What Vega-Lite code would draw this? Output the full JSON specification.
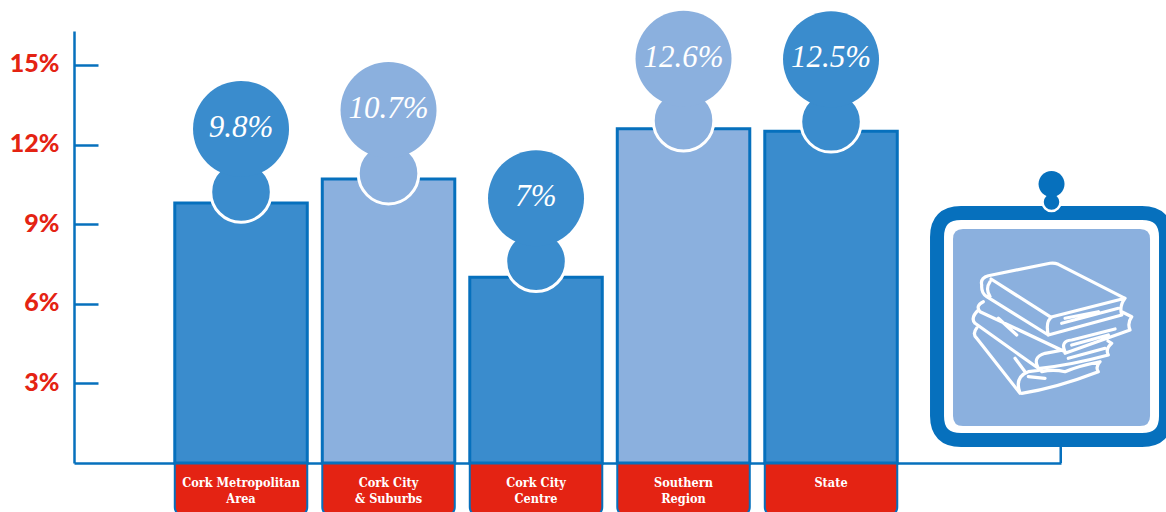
{
  "$schema": "https://vega.github.io/schema/vega-lite/v6.json",
  "width": 987,
  "height": 432,
  "autosize": {"type": "none"},
  "padding": {"left": 74, "top": 31, "right": 105, "bottom": 49},
  "background": "white",
  "view": {"stroke": null},
  "params": [
    {"name": "bubbleLift", "value": {"Cork Metropolitan\nArea": 74, "Cork City\n& Suburbs": 69, "Cork City\nCentre": 79, "Southern\nRegion": 70, "State": 72}},
    {"name": "neckLift", "value": {"Cork Metropolitan\nArea": 11, "Cork City\n& Suburbs": 5.5, "Cork City\nCentre": 16, "Southern\nRegion": 8, "State": 9.5}}
  ],
  "data": {
    "values": [
      {"area": "Cork Metropolitan\nArea", "share": 9.8},
      {"area": "Cork City\n& Suburbs", "share": 10.7},
      {"area": "Cork City\nCentre", "share": 7},
      {"area": "Southern\nRegion", "share": 12.6},
      {"area": "State", "share": 12.5}
    ]
  },
  "encoding": {
    "x": {
      "field": "area",
      "type": "nominal",
      "sort": null,
      "scale": {
        "domain": ["Cork Metropolitan\nArea", "Cork City\n& Suburbs", "Cork City\nCentre", "Southern\nRegion", "State"],
        "paddingInner": 0.1017,
        "paddingOuter": 0.8966,
        "align": 0.381
      },
      "axis": {
        "title": null,
        "labels": false,
        "ticks": false,
        "domain": true,
        "domainColor": "#0670bd",
        "domainWidth": 2.5,
        "grid": false
      }
    },
    "color": {
      "field": "area",
      "type": "nominal",
      "legend": null,
      "scale": {
        "domain": ["Cork Metropolitan\nArea", "Cork City\n& Suburbs", "Cork City\nCentre", "Southern\nRegion", "State"],
        "range": ["#3a8ccd", "#8bb0de", "#3a8ccd", "#8bb0de", "#3a8ccd"]
      }
    }
  },
  "layer": [
    {
      "mark": {"type": "bar", "fill": "#e42313", "stroke": "#0670bd", "strokeWidth": 2, "cornerRadiusBottomLeft": 9, "cornerRadiusBottomRight": 9},
      "encoding": {
        "color": {"value": "#e42313"},
        "y": {
          "datum": 0,
          "type": "quantitative",
          "scale": {"domain": [0, 16.28], "nice": false},
          "axis": {
            "title": null,
            "grid": false,
            "values": [3, 6, 9, 12, 15],
            "labelExpr": "datum.value + '%'",
            "labelFont": "Lato",
            "labelFontWeight": 900,
            "labelFontSize": 25,
            "labelColor": "#e42313",
            "labelPadding": 39,
            "labelOffset": -1,
            "tickSize": -24,
            "tickWidth": 2.5,
            "tickColor": "#0670bd",
            "domainColor": "#0670bd",
            "domainWidth": 2.5
          }
        },
        "y2": {"datum": -2}
      }
    },
    {
      "mark": {"type": "bar", "stroke": "#0670bd", "strokeWidth": 3},
      "encoding": {
        "y": {"field": "share", "type": "quantitative"},
        "y2": {"datum": 0}
      }
    },
    {
      "mark": {"type": "point", "filled": true, "opacity": 1, "size": 3672, "stroke": "white", "strokeWidth": 3, "strokeOpacity": 1, "yOffset": {"expr": "-neckLift[datum.area]"}},
      "encoding": {
        "y": {"field": "share", "type": "quantitative"},
        "stroke": {"value": "white"}
      }
    },
    {
      "mark": {"type": "point", "filled": true, "opacity": 1, "size": 9216, "yOffset": {"expr": "-bubbleLift[datum.area]"}},
      "encoding": {
        "y": {"field": "share", "type": "quantitative"}
      }
    },
    {
      "mark": {"type": "text", "font": "Liberation Serif", "fontStyle": "italic", "fontSize": 31, "baseline": "middle", "text": {"expr": "datum.share + '%'"}, "yOffset": {"expr": "-bubbleLift[datum.area] - 1"}},
      "encoding": {
        "y": {"field": "share", "type": "quantitative"},
        "color": {"value": "white"}
      }
    },
    {
      "mark": {"type": "text", "font": "DejaVu Serif Condensed, DejaVu Serif", "fontWeight": "bold", "fontSize": 12.6, "lineBreak": "\n", "lineHeight": 16, "baseline": "top"},
      "encoding": {
        "y": {"datum": -0.51},
        "text": {"field": "area", "type": "nominal"},
        "color": {"value": "white"}
      }
    },
    {
      "data": {"values": [{"part": "books panel"}]},
      "encoding": {
        "x": {"datum": "State"},
        "y": {"datum": 5.125},
        "color": {"value": "#0670bd"}
      },
      "layer": [
        {"mark": {"type": "point", "size": 4, "opacity": 1, "filled": false, "strokeWidth": 2.5, "stroke": "#0670bd", "shape": "M229.7,120 L229.7,136"}},
        {"mark": {"type": "point", "size": 4, "opacity": 1, "filled": false, "strokeWidth": 14, "stroke": "#0670bd", "shape": "M130,-114 L311,-114 Q335,-114 335,-90 L335,89 Q335,113 311,113 L130,113 Q106,113 106,89 L106,-90 Q106,-114 130,-114 Z"}},
        {"mark": {"type": "point", "size": 4, "opacity": 1, "filled": true, "fill": "#8bb0de", "stroke": null, "shape": "M132,-98 L309,-98 Q319,-98 319,-88 L319,89 Q319,99 309,99 L132,99 Q122,99 122,89 L122,-88 Q122,-98 132,-98 Z"}},
        {"mark": {"type": "point", "size": 4, "opacity": 1, "filled": false, "strokeWidth": 3.2, "stroke": "white", "strokeJoin": "round", "strokeCap": "round", "shape": "M294,-28.7 L227.3,-62.7 Q223,-64.5 219,-63.7 L157.3,-51.3 Q149,-49 150.7,-42 Q150,-34 155.7,-30.3 L217.3,8 Q214,-6 221.3,-10.3 L294,-28.7 M217.3,8 L290.7,-12 Q288,-21 294,-28.7 M160,-48 L219,-10.3 M159,-45.3 Q154,-38 159,-30.3 M230.7,-3.7 L287.3,-18.7 M234,-8.7 L267.3,-15.3 M152.3,-25.3 Q144,-21 149,-15.3 L234,24.7 Q229,14 240.7,13 L284,2 M234,26.3 L299,3 Q296,-4 300.7,-10.3 L290.7,-15.3 M240.7,18 L277.3,8 M147.3,-17 Q139,-9 144,-3.7 L207.3,41.3 Q201,30 214,26.3 L232.3,23 M209,41.3 Q240,38 277.3,28 Q274,22 280.7,16.3 L277,14 M237.3,31.3 L274,21.3 M145.7,1 Q141,7 145.7,11.3 L189,66.3 Q183,50 197.3,44.7 L210.7,43 M190.7,66.3 Q225,61 267.3,44.7 Q264,40 269,34.7 Q247,39 234,44.7 Q222,42 210.7,44.7 M184,31.3 L194,44.7 M197.3,49.7 L214,51.3 M167.3,-8.7 L185.7,8"}},
        {"mark": {"type": "point", "size": 4, "opacity": 1, "filled": true, "fill": "#0670bd", "stroke": "white", "strokeWidth": 2.5, "shape": "M211.5,-125 a9,9 0 1 0 18,0 a9,9 0 1 0 -18,0 Z"}},
        {"mark": {"type": "point", "size": 4, "opacity": 1, "filled": true, "fill": "#0670bd", "stroke": null, "shape": "M207.5,-143 a13,13 0 1 0 26,0 a13,13 0 1 0 -26,0 Z"}}
      ]
    }
  ]
}
